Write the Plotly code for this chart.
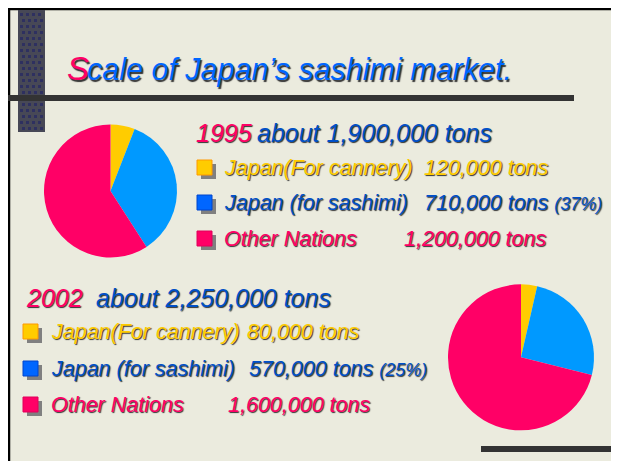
import plotly.graph_objects as go

# ---------------- data ----------------
years = ["1995", "2002"]
categories = ["Japan(For cannery)", "Japan (for sashimi)", "Other Nations"]
tons_1995 = [120000, 710000, 1200000]
tons_2002 = [80000, 570000, 1600000]
totals = [1900000, 2250000]
title_first = "S"
title_rest = "cale of Japan\u2019s sashimi market."

# ---------------- styles ----------------
W, H = 619, 461
OFF = 8  # page body margin in the browser
slice_colors = ["#FFCC00", "#0099FF", "#FF0066"]
square_colors = ["#FFCC00", "#0066FF", "#FF0066"]
square_lines = ["#FF9900", "#0044CC", "#E0005A"]
text_colors = ["#FFCC00", "#0050C8", "#FF0066"]
PINK = "#FF0066"
BLUE_T = "#0066FF"
BLUE = "#0050C8"
BG = "#EBEBDE"
FONT = "Liberation Sans, Arial, sans-serif"
SHADOW = "1px 1px 1px #333333"
LEG = 21.5


def px(x):
    return (x - OFF) / W


def py(y):
    return 1 - (y - OFF) / H


shapes = []
annotations = []


def rect(x0, y0, x1, y1, color, line=None, lw=0):
    shapes.append(dict(type="rect", xref="paper", yref="paper",
                       x0=px(x0), x1=px(x1), y0=py(y1), y1=py(y0),
                       fillcolor=color, line=dict(width=lw, color=line or color),
                       layer="below"))


def text(x, baseline, s, size, color, shadow=SHADOW):
    annotations.append(dict(
        xref="paper", yref="paper", x=px(x - 1), y=py(baseline - 0.35 * size),
        xanchor="left", yanchor="middle", text=s, showarrow=False,
        font=dict(family=FONT, size=size, color=color, style="italic", shadow=shadow)))


# frame and background
rect(9, 9, 617, H + 20, BG, line="#000000", lw=2.5)
rect(18, 10, 45, 132, "#474856")        # dark vertical bar
for cx in range(20, 44, 6):
    for cy in range(13, 130, 6):
        rect(cx + (cy // 6 % 2) * 2, cy, cx + 3 + (cy // 6 % 2) * 2, cy + 3, "#2E3060")
rect(8, 95, 574, 101, "#333333")       # title rule
rect(481, 446, 617, 452, "#333333")    # bottom-right rule

# title
text(66, 80, title_first, 33, PINK, shadow="1.5px 1.5px 1px #333333")
text(86, 80, title_rest, 30.5, BLUE_T, shadow="1.5px 1.5px 1px #333333")

# blocks
blocks = [
    dict(values=tons_1995, total=totals[0], year=years[0],
         year_x=195, about_x=256, head_base=142,
         sq_x=197, txt_x=223, bases=[176, 211, 247],
         amt_x=[423, 423, 403]),
    dict(values=tons_2002, total=totals[1], year=years[1],
         year_x=25, about_x=95, head_base=307,
         sq_x=23, txt_x=50, bases=[340, 377, 413],
         amt_x=[246, 248, 227]),
]

for b in blocks:
    text(b["year_x"], b["head_base"], b["year"], 25, PINK)
    text(b["about_x"], b["head_base"], f"about {b['total']:,} tons", 25, BLUE)
    for i, (cat, val) in enumerate(zip(categories, b["values"])):
        base = b["bases"][i]
        sx = b["sq_x"]
        rect(sx + 4, base - 12, sx + 19, base + 3, "#808080")
        rect(sx, base - 16, sx + 15, base - 1, square_colors[i], line=square_lines[i], lw=1)
        text(b["txt_x"], base, cat, LEG, text_colors[i])
        amount = f"{val:,} tons"
        if i == 1:
            pct = round(val / b["total"] * 100)
            amount += f" <span style='font-size:18px'>({pct}%)</span>"
        text(b["amt_x"][i], base, amount, LEG, text_colors[i])

fig = go.Figure()
pie_domains = [
    dict(x=[px(44), px(177)], y=[py(257.5), py(124.5)]),
    dict(x=[px(448), px(594)], y=[py(430.7), py(284)]),
]
for b, dom in zip(blocks, pie_domains):
    fig.add_trace(go.Pie(
        labels=categories, values=b["values"], sort=False, direction="clockwise",
        rotation=0, textinfo="none", hoverinfo="label+value",
        marker=dict(colors=slice_colors, line=dict(width=0)),
        domain=dom, showlegend=False, name=b["year"]))

fig.update_layout(
    width=W, height=H, margin=dict(l=0, r=0, t=0, b=0),
    paper_bgcolor="#FFFFFF", plot_bgcolor="#FFFFFF",
    shapes=shapes, annotations=annotations, showlegend=False,
)
fig.write_html("out.html")
